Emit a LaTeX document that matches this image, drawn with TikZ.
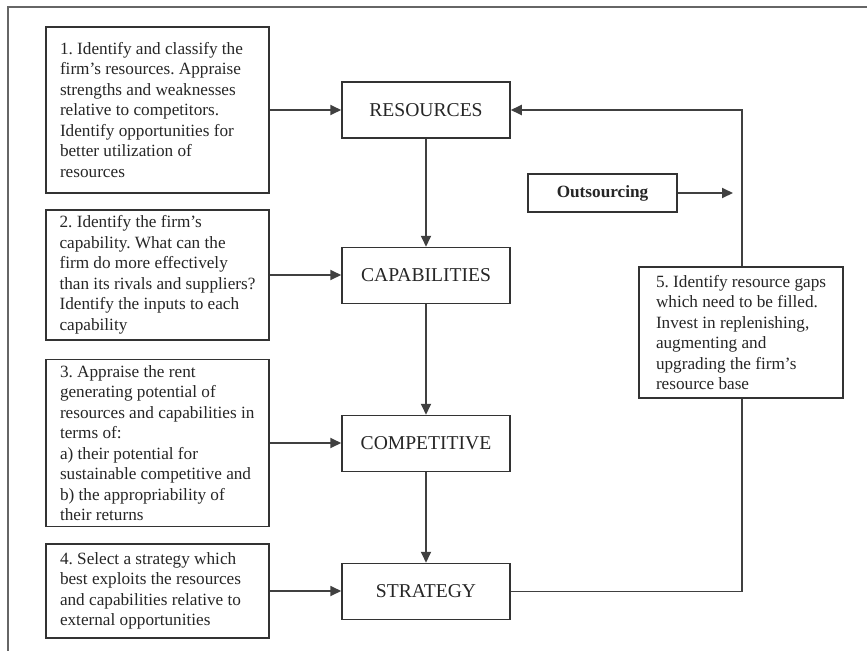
\documentclass[tikz,border=0pt]{standalone}
\usepackage{fontspec}
\setmainfont{Liberation Serif}
\usetikzlibrary{arrows.meta}
% first line of a step box, padded to a fixed width
\newcommand{\steprow}[2][195pt]{\makebox[#1][l]{#2}}

\begin{document}
\frenchspacing
\begin{tikzpicture}[x=1pt,y=-1pt,
  stepbox/.style={draw=black!80,line width=1.5pt,fill=white,minimum width=223pt,inner xsep=10pt,inner ysep=0pt,
    align=left,text=black!85,font=\fontsize{17.2}{20.5}\selectfont},
  mainbox/.style={draw=black!80,line width=1.5pt,fill=white,minimum width=168pt,minimum height=56pt,
    inner sep=0pt,text=black!85,font=\fontsize{19.6}{22}\selectfont},
  link/.style={draw=black!75,line width=1.8pt,-{Triangle[length=11pt,width=10pt]}}]
\useasboundingbox (0,0) rectangle (867,651);
% frame
\draw [black!60,line width=2pt] (867,7) -- (8,7) -- (8,651);
% the four steps on the left
\node [stepbox,minimum height=166pt] (step1) at (157.5,110)
  {\steprow{1. Identify and classify the}\\firm's resources. Appraise\\strengths and weaknesses\\relative to competitors.\\Identify opportunities for\\better utilization of\\resources};
\node [stepbox,minimum height=130pt] (step2) at (157.5,275)
  {\steprow{2. Identify the firm's}\\capability. What can the\\firm do more effectively\\than its rivals and suppliers?\\Identify the inputs to each\\capability};
\node [stepbox,minimum height=167pt] (step3) at (157.5,443)
  {\steprow{3. Appraise the rent}\\generating potential of\\resources and capabilities in\\terms of:\\a) their potential for\\sustainable competitive and\\b) the appropriability of\\their returns};
\node [stepbox,minimum height=94pt] (step4) at (157.5,591)
  {\steprow{4. Select a strategy which}\\best exploits the resources\\and capabilities relative to\\external opportunities};
% the main chain
\node [mainbox] (res) at (426,110) {RESOURCES};
\node [mainbox] (cap) at (426,275.5) {CAPABILITIES};
\node [mainbox] (comp) at (426,443.5) {COMPETITIVE};
\node [mainbox] (strat) at (426,591.5) {STRATEGY};
\node [mainbox,minimum width=149pt,minimum height=38pt,font=\fontsize{17.2}{20}\selectfont\bfseries]
  (outs) at (602.5,193) {Outsourcing};
\draw [link] (step1.east) -- (res.west);
\draw [link] (step2.east) -- (step2.east -| cap.west);
\draw [link] (step3.east) -- (step3.east -| comp.west);
\draw [link] (step4.east) -- (step4.east -| strat.west);
\draw [link] (res) -- (cap);
\draw [link] (cap) -- (comp);
\draw [link] (comp) -- (strat);
% feedback loop
\coordinate (back) at (742,0);
\coordinate (outtip) at (733,193);
\draw [link] (strat.east) -- (strat.east -| back) -- (res.east -| back) -- (res.east);
\draw [link] (outs.east) -- (outtip);
\node [stepbox,minimum width=204pt,minimum height=131pt] (step5) at (741,332.5)
  {\steprow[170pt]{5. Identify resource gaps}\\which need to be filled.\\Invest in replenishing,\\augmenting and\\upgrading the firm's\\resource base};
\end{tikzpicture}
\end{document}
